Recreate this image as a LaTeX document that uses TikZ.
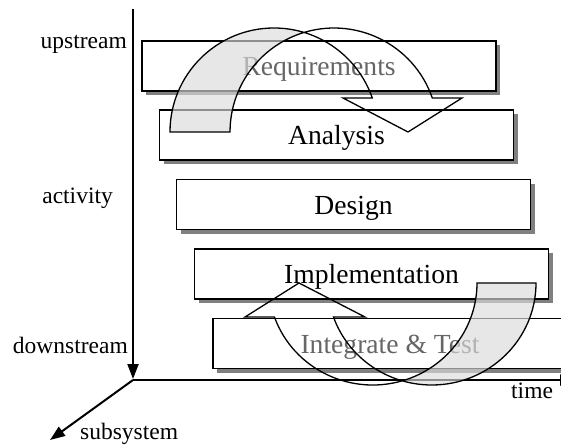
\documentclass[tikz,border=0pt]{standalone}
\usepackage{fontspec}
\setmainfont{Liberation Serif}
\usetikzlibrary{arrows.meta,shadows}
\begin{document}
\begin{tikzpicture}[x=1pt,y=1pt,
  stage/.style={draw=black, line width=1.3pt, fill=white, minimum width=354pt,
    minimum height=50pt, inner sep=0pt, text height=18.5pt, text depth=0pt,
    font=\fontsize{27.6}{30}\selectfont,
    drop shadow={shadow xshift=4pt, shadow yshift=-4pt, fill=black!50, opacity=1}},
  faded/.style={text=black!60},
  axis/.style={line width=2pt},
  axistip/.style={-{Triangle[length=15pt,width=11pt]}},
  lbl/.style={inner sep=0pt, font=\fontsize{23.5}{26}\selectfont},
  band/.style={draw=black, line width=1.3pt, line join=miter},
  backshade/.style={fill=black!14, fill opacity=0.65}
]
\useasboundingbox (0,0) rectangle (561,445);
\clip (0,0) rectangle (561,445);

% axes
\coordinate (O) at (133,65);
\coordinate (vtop) at (133,436);
\coordinate (vend) at (133,66);
\coordinate (tend) at (575,65);
\coordinate (sub) at (50,5);
\draw[axis, axistip] (vtop) -- (vend);
\draw[axis, axistip] (O) -- (tend);
\draw[axis, axistip] (O) -- (sub);

% axis labels
\node[lbl, anchor=base east] (up) at (127,396) {upstream};
\node[lbl, anchor=base east] (act) at (113,242) {activity};
\node[lbl, anchor=base east] (down) at (128,92) {downstream};
\node[lbl, anchor=base west] (time) at (511,47) {time};
\node[lbl, anchor=base west] (subl) at (80,5.5) {subsystem};

% stages
\node[stage, faded] (req) at (319,379) {Requirements};
\node[stage] (ana) at (336.5,310) {Analysis};
\node[stage] (des) at (353.5,240.25) {Design};
\node[stage] (imp) at (371.5,171) {Implementation};
\node[stage, faded] (intt) at (390,101.25) {Integrate \& Test};

% top curved arrow (Requirements -> Analysis)
\fill[backshade] (170,313) arc[start angle=180,end angle=73.2,radius=104]
  arc[start angle=106.8,end angle=180,radius=104] -- cycle;
\draw[band] (170,313) arc[start angle=180,end angle=19.1,radius=104]
  -- (343,347) -- (408,313) -- (462,347) -- (432.3,347)
  arc[start angle=19.1,end angle=180,radius=104] -- cycle;

% bottom curved arrow (Integrate & Test -> Implementation)
\fill[backshade] (536,162) arc[start angle=0,end angle=-106.44,x radius=104.25,y radius=102]
  arc[start angle=-73.56,end angle=0,x radius=104.25,y radius=102] -- cycle;
\draw[band] (536,162) arc[start angle=0,end angle=-160.53,x radius=104.25,y radius=102]
  -- (365,128) -- (299,162) -- (245,128) -- (274.46,128)
  arc[start angle=199.47,end angle=360,x radius=104.25,y radius=102] -- cycle;
\end{tikzpicture}
\end{document}
